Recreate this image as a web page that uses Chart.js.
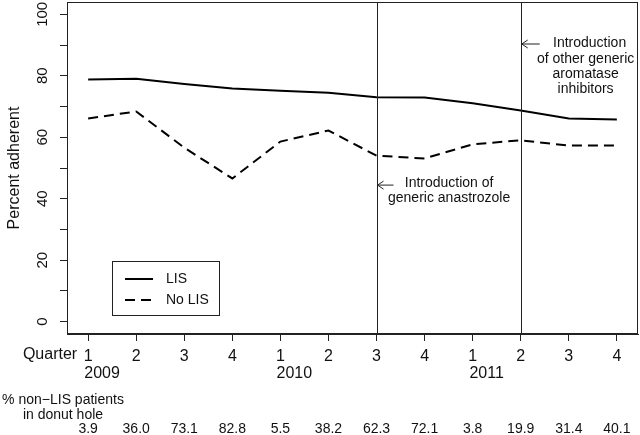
<!DOCTYPE html>
<html>
<head>
<meta charset="utf-8">
<script src="https://cdn.jsdelivr.net/npm/chart.js@4"></script>
<style>
  body { margin: 0; background: #fff; }
  canvas { display: block; }
</style>
</head>
<body>
<canvas id="chart" width="640" height="435"></canvas>
<script>
// quarters 2009 Q1 .. 2011 Q4
const quarters = [1, 2, 3, 4, 5, 6, 7, 8, 9, 10, 11, 12];
const quarterLabels = ['1', '2', '3', '4', '1', '2', '3', '4', '1', '2', '3', '4'];
const years = ['2009', '2010', '2011'];
const yearStart = [1, 5, 9];

const lisValues = [78.8, 79.0, 77.3, 75.9, 75.1, 74.5, 73.0, 72.9, 71.1, 68.7, 66.1, 65.8];
const noLisValues = [66.1, 68.4, 56.6, 46.6, 58.6, 62.2, 54.0, 53.1, 57.7, 59.0, 57.3, 57.3];

const donutHole = ['3.9', '36.0', '73.1', '82.8', '5.5', '38.2', '62.3', '72.1', '3.8', '19.9', '31.4', '40.1'];

const yTicks = [0, 10, 20, 30, 40, 50, 60, 70, 80, 90, 100];
const yLabelTicks = [0, 20, 40, 60, 80, 100];

const events = [
  {x: 7, lines: ['Introduction of', 'generic anastrozole'], arrowY: 44.6},
  {x: 10, lines: ['Introduction', 'of other generic', 'aromatase', 'inhibitors'], arrowY: 90.5}
];

const FONT = '"Liberation Sans", Arial, sans-serif';

const toXY = vals => vals.map((v, i) => ({x: quarters[i], y: v}));

const rPlot = {
  id: 'rPlot',
  afterDraw(chart) {
    const ctx = chart.ctx;
    const a = chart.chartArea;
    const xs = chart.scales.x;
    const ys = chart.scales.y;
    ctx.save();

    // box
    ctx.strokeStyle = '#222';
    ctx.lineWidth = 1;
    ctx.strokeRect(a.left + 0.5, a.top + 0.5, a.right - a.left - 1, a.bottom - a.top - 1);

    // event lines
    events.forEach(ev => {
      const px = Math.round(xs.getPixelForValue(ev.x)) + 0.5;
      ctx.beginPath();
      ctx.moveTo(px, a.top);
      ctx.lineTo(px, a.bottom);
      ctx.stroke();
    });

    ctx.fillStyle = '#111';
    ctx.textAlign = 'center';
    ctx.textBaseline = 'middle';
    ctx.font = '14px ' + FONT;

    // annotation 1
    {
      const ev = events[0];
      const x0 = xs.getPixelForValue(ev.x);
      const ay = ys.getPixelForValue(ev.arrowY);
      drawArrow(ctx, x0 + 17, ay, x0 + 1, ay);
      const cx = xs.getPixelForValue(ev.x + 1.51);
      ctx.fillText(ev.lines[0], cx, ay - 1);
      ctx.fillText(ev.lines[1], cx, ay + 14);
    }
    // annotation 2
    {
      const ev = events[1];
      const x0 = xs.getPixelForValue(ev.x);
      const ay = ys.getPixelForValue(ev.arrowY);
      drawArrow(ctx, x0 + 19, ay, x0 + 1, ay);
      const cx = xs.getPixelForValue(ev.x + 1.35);
      ctx.fillText(ev.lines[0], cx + 4, ay);
      ctx.fillText(ev.lines[1], cx, ay + 15.5);
      ctx.fillText(ev.lines[2], cx, ay + 31);
      ctx.fillText(ev.lines[3], cx, ay + 46);
    }

    // y tick labels (rotated like R)
    ctx.font = '15px ' + FONT;
    yLabelTicks.forEach(v => {
      const py = ys.getPixelForValue(v);
      ctx.save();
      ctx.translate(43, py);
      ctx.rotate(-Math.PI / 2);
      ctx.fillText(String(v), 0, 0);
      ctx.restore();
    });

    // y title
    ctx.font = '16px ' + FONT;
    ctx.save();
    ctx.translate(15, (ys.getPixelForValue(0) + ys.getPixelForValue(100)) / 2);
    ctx.rotate(-Math.PI / 2);
    ctx.fillText('Percent adherent', 0, 0);
    ctx.restore();

    // "Quarter" and years
    ctx.textAlign = 'right';
    ctx.fillText('Quarter', xs.getPixelForValue(1) - 11, 355);
    ctx.textAlign = 'center';
    years.forEach((yr, i) => {
      ctx.fillText(yr, xs.getPixelForValue(yearStart[i] + 0.29), 374);
    });

    // donut hole row
    ctx.font = '14px ' + FONT;
    ctx.fillText('% non\u2212LIS patients', 63, 400);
    ctx.fillText('in donut hole', 63, 415);
    donutHole.forEach((t, i) => {
      ctx.fillText(t, xs.getPixelForValue(quarters[i]), 429);
    });

    // legend
    const lx = 112, ly = 261, lw = 107, lh = 54;
    ctx.fillStyle = '#fff';
    ctx.fillRect(lx, ly, lw, lh);
    ctx.strokeStyle = '#222';
    ctx.lineWidth = 1;
    ctx.strokeRect(lx + 0.5, ly + 0.5, lw, lh);
    chart.data.datasets.forEach((ds, i) => {
      const yy = ly + 18 + i * 21;
      ctx.strokeStyle = ds.borderColor;
      ctx.lineWidth = ds.borderWidth;
      ctx.setLineDash(ds.borderDash || []);
      ctx.beginPath();
      ctx.moveTo(125, yy);
      ctx.lineTo(153, yy);
      ctx.stroke();
      ctx.setLineDash([]);
      ctx.fillStyle = '#111';
      ctx.textAlign = 'left';
      ctx.fillText(ds.label, 166, yy);
    });

    ctx.restore();
  }
};

function drawArrow(ctx, x1, y1, x2, y2) {
  ctx.save();
  ctx.strokeStyle = '#222';
  ctx.lineWidth = 1;
  ctx.beginPath();
  ctx.moveTo(x1, y1 + 0.5);
  ctx.lineTo(x2, y2 + 0.5);
  ctx.moveTo(x2 + 6, y2 - 3.5);
  ctx.lineTo(x2, y2 + 0.5);
  ctx.lineTo(x2 + 6, y2 + 4.5);
  ctx.stroke();
  ctx.restore();
}

new Chart(document.getElementById('chart'), {
  type: 'line',
  data: {
    datasets: [
      {label: 'LIS', data: toXY(lisValues), borderColor: '#000', borderWidth: 2, pointRadius: 0, tension: 0},
      {label: 'No LIS', data: toXY(noLisValues), borderColor: '#000', borderWidth: 2, borderDash: [10, 6], pointRadius: 0, tension: 0}
    ]
  },
  options: {
    responsive: false,
    animation: false,
    devicePixelRatio: 1,
    layout: {padding: {top: 2, right: 2, left: 0, bottom: 0}},
    plugins: {legend: {display: false}, tooltip: {enabled: false}},
    scales: {
      x: {
        type: 'linear',
        min: 0.56,
        max: 12.44,
        afterBuildTicks: s => { s.ticks = quarters.map(v => ({value: v})); },
        afterFit: s => { s.height = 101; },
        border: {display: true, color: '#222'},
        grid: {drawOnChartArea: false, tickLength: 7, color: '#222'},
        ticks: {
          color: '#111',
          font: {family: FONT, size: 16},
          padding: 6,
          maxRotation: 0,
          autoSkip: false,
          callback: (v) => quarterLabels[Math.round(v) - 1]
        }
      },
      y: {
        min: -4,
        max: 104,
        afterBuildTicks: s => { s.ticks = yTicks.map(v => ({value: v})); },
        afterFit: s => { s.width = 67; },
        border: {display: true, color: '#222'},
        grid: {drawOnChartArea: false, tickLength: 7, color: '#222'},
        ticks: {display: false}
      }
    }
  },
  plugins: [rPlot]
});
</script>
</body>
</html>
